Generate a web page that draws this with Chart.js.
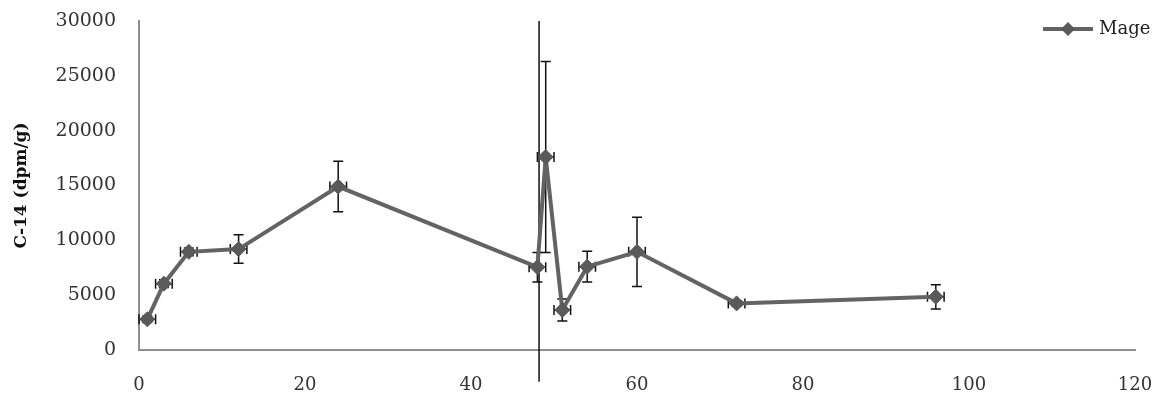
<!DOCTYPE html>
<html>
<head>
<meta charset="utf-8">
<script src="https://cdn.jsdelivr.net/npm/chart.js@4/dist/chart.umd.min.js"></script>
<style>
  html, body { margin: 0; padding: 0; background: #ffffff; }
  #wrap { width: 1165px; height: 401px; }
</style>
</head>
<body>
<div id="wrap"><canvas id="c" width="1165" height="401"></canvas></div>
<script>
// ---- data ----
const seriesLabel = 'Mage';
const hours   = [1, 3, 6, 12, 24, 48, 49, 51, 54, 60, 72, 96];
const c14     = [2800, 6050, 8950, 9200, 14900, 7550, 17600, 3650, 7600, 8950, 4250, 4850];
const c14Err  = [300, 350, 350, 1300, 2300, 1350, 8700, 1000, 1400, 3150, 250, 1100];
const hourErr = [1, 1, 1, 1, 1, 1, 1, 1, 1, 1, 1, 1];
// stray vertical line present in the source figure
const strayLineX = [48.2, 48.2];
const strayLineY = [30000, -2900];
const xTicks = [0, 20, 40, 60, 80, 100, 120];
const yTicks = [0, 5000, 10000, 15000, 20000, 25000, 30000];
const yTitle = 'C-14 (dpm/g)';

const LINE_GRAY = '#636363';
const MARK_GRAY = '#5a5a5a';

const points = hours.map((h, i) => ({ x: h, y: c14[i] }));
const stray = strayLineX.map((x, i) => ({ x: x, y: strayLineY[i] }));

const errorBars = {
  id: 'errorBars',
  beforeDatasetsDraw(chart) {
    const xs = chart.scales.x, ys = chart.scales.y;
    const ctx = chart.ctx;
    ctx.save();
    ctx.strokeStyle = '#111111';
    ctx.lineWidth = 1.5;
    const cap = 5;
    hours.forEach((h, i) => {
      const px = xs.getPixelForValue(h);
      const py = ys.getPixelForValue(c14[i]);
      const yt = ys.getPixelForValue(c14[i] + c14Err[i]);
      const yb = ys.getPixelForValue(c14[i] - c14Err[i]);
      const xl = xs.getPixelForValue(h - hourErr[i]);
      const xr = xs.getPixelForValue(h + hourErr[i]);
      ctx.beginPath();
      ctx.moveTo(px, yt); ctx.lineTo(px, yb);
      ctx.moveTo(px - cap, yt); ctx.lineTo(px + cap, yt);
      ctx.moveTo(px - cap, yb); ctx.lineTo(px + cap, yb);
      ctx.moveTo(xl, py); ctx.lineTo(xr, py);
      ctx.moveTo(xl, py - cap); ctx.lineTo(xl, py + cap);
      ctx.moveTo(xr, py - cap); ctx.lineTo(xr, py + cap);
      ctx.stroke();
    });
    ctx.restore();
  }
};

const customLegend = {
  id: 'customLegend',
  afterDraw(chart) {
    const ctx = chart.ctx;
    const ds = chart.data.datasets[0];
    const x0 = 1043, x1 = 1093, y = 29;
    ctx.save();
    ctx.strokeStyle = ds.borderColor;
    ctx.lineWidth = 4;
    ctx.beginPath(); ctx.moveTo(x0, y); ctx.lineTo(x1, y); ctx.stroke();
    const cx = (x0 + x1) / 2, r = 7;
    ctx.fillStyle = ds.pointBackgroundColor;
    ctx.beginPath();
    ctx.moveTo(cx, y - r); ctx.lineTo(cx + r, y); ctx.lineTo(cx, y + r); ctx.lineTo(cx - r, y);
    ctx.closePath(); ctx.fill();
    ctx.fillStyle = '#222222';
    ctx.font = '18px "DejaVu Serif"';
    ctx.textAlign = 'left';
    ctx.textBaseline = 'middle';
    ctx.fillText(ds.label, 1099, y);
    ctx.restore();
  }
};

new Chart(document.getElementById('c'), {
  type: 'scatter',
  data: {
    datasets: [
      {
        label: seriesLabel,
        data: points,
        showLine: true,
        borderColor: LINE_GRAY,
        borderWidth: 4,
        pointStyle: 'rectRot',
        pointRadius: 7.5,
        pointBackgroundColor: MARK_GRAY,
        pointBorderColor: MARK_GRAY,
        pointBorderWidth: 1,
        order: 1
      },
      {
        label: 'stray',
        data: stray,
        showLine: true,
        borderColor: '#111111',
        borderWidth: 1.5,
        pointRadius: 0,
        clip: false,
        order: 2
      }
    ]
  },
  options: {
    responsive: false,
    animation: false,
    devicePixelRatio: 1,
    layout: { padding: { top: 21, left: 0, right: 30, bottom: 0 } },
    plugins: { legend: { display: false }, tooltip: { enabled: false } },
    scales: {
      x: {
        type: 'linear',
        min: 0, max: 120,
        afterBuildTicks(scale) { scale.ticks = xTicks.map(v => ({ value: v })); },
        afterFit(scale) { scale.height = 51; scale.paddingLeft = 0; scale.paddingRight = 0; },
        grid: { display: false, drawTicks: false },
        border: { display: true, color: '#8f8f8f', width: 2 },
        ticks: { padding: 25, color: '#333333', font: { family: 'DejaVu Serif', size: 18 }, maxRotation: 0 }
      },
      y: {
        type: 'linear',
        min: 0, max: 30000,
        afterBuildTicks(scale) { scale.ticks = yTicks.map(v => ({ value: v })); },
        afterFit(scale) { scale.width = 139; scale.paddingTop = 0; scale.paddingBottom = 0; },
        grid: { display: false, drawTicks: false },
        border: { display: true, color: '#8f8f8f', width: 2 },
        ticks: { padding: 23, color: '#333333', font: { family: 'DejaVu Serif', size: 19 },
                 callback: v => String(v) },
        title: { display: true, text: yTitle, color: '#111111',
                 font: { family: 'DejaVu Serif', size: 17, weight: 'bold' },
                 padding: { top: 11, bottom: 0 } }
      }
    }
  },
  plugins: [errorBars, customLegend]
});
</script>
</body>
</html>
